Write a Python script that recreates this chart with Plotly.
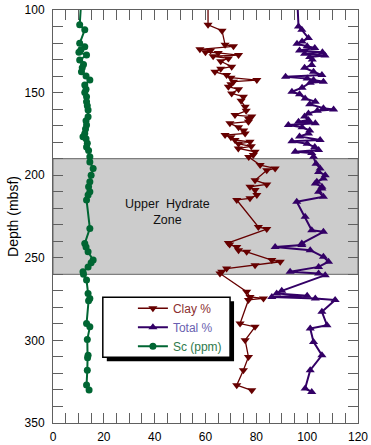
import plotly.graph_objects as go

# ---- data ----
clay_depth = [90, 109, 112.5, 121, 122, 123.8, 124.5, 125.5, 126, 127.3, 128, 129.3, 131, 134.3, 135.5,
              137.4, 139.4, 141, 142.4, 143.4, 145, 146.4, 148, 150.5, 152.5, 155, 158.6, 161, 163.6,
              164.5, 166, 167.6, 168.6, 171, 173, 174.7, 175.7, 177, 178.7, 179.8, 181, 182.5, 183.8,
              185.8, 187.8, 189, 193.9, 195.9, 197, 203, 205.6, 207, 209, 212, 214, 215, 231.3, 232.6,
              241, 242, 243.4, 245.4, 246.4, 251.4, 252.4, 254.5, 256.5, 258.5, 259.5, 270.6, 273.7,
              274.6, 275.5, 289.8, 291.8, 299.9, 310, 318, 327.1, 330.2]
clay_pct = [61, 61, 66.5, 67.7, 71, 57.8, 62, 60, 65, 73, 63, 69, 66, 70.3, 66,
            63.7, 68.3, 70, 80.2, 71, 70, 69, 73, 70.3, 74.9, 74, 75.6, 76, 71.6,
            78.2, 77, 76.9, 69.6, 73, 75, 75.6, 67.7, 70, 71.6, 77.5, 73, 78, 72.9,
            79.5, 78.8, 77, 81.5, 87.4, 84.1, 79.5, 84.1, 77.5, 79.5, 80.2, 77.5, 72.3, 80.8, 84.1,
            69, 69.5, 72.3, 73, 76.2, 86.1, 89.4, 79.5, 68.3, 66.4, 65.7, 76.2, 77.5,
            82.8, 76.9, 73.6, 79.5, 75.6, 76.9, 74.9, 72.3, 78.2]

total_depth = [90, 110, 112, 117, 119, 120.5, 122, 123, 124.5, 125.5, 126.5, 127.5, 128.5, 130, 133.3,
               135, 137.4, 139.4, 140.4, 141.5, 142.4, 143.4, 144, 147, 149.5, 151, 153.5, 155.5, 157,
               159.5, 160.2, 161, 162.6, 164.5, 166.6, 167.6, 168.6, 169.6, 171, 173, 174.7, 176.5,
               178.7, 179.5, 181, 183, 184.8, 185.8, 186.5, 188.8, 193, 195.9, 198, 200, 202, 204, 205,
               207, 208, 210, 213, 216.1, 225.2, 233.3, 234.3, 241.3, 242.3, 243.4, 245.4, 249.4,
               252.4, 255.5, 258.5, 259.5, 260.5, 270, 271.6, 273, 273.7, 274.6, 275.6, 282.7, 290.8,
               292.8, 300.9, 309, 318, 329.1, 331.2]
total_pct = [96, 96.6, 97.9, 100.5, 98, 96, 100, 103, 97, 106, 99, 107, 101, 102, 101.8,
             99, 102.5, 105.8, 91.5, 100, 102.5, 106.4, 101.2, 98, 94, 97, 99.2, 103.2, 101,
             106.4, 110.4, 104, 100.5, 99, 100.5, 96.6, 103.2, 92.6, 98, 101, 100.5, 97,
             105.1, 94, 100, 103, 104.5, 95.3, 101.8, 102.5, 103.5, 105.1, 104.5, 107.1, 106.4, 103.8, 103.2,
             105.8, 105.8, 104.5, 106.4, 95.9, 99.2, 101.8, 106.4, 97.9, 97.9, 87.4, 101.2, 106.4,
             108.4, 104.5, 93.3, 104.5, 107.1, 90, 88, 100, 86.1, 103.2, 111, 105.8, 107.8,
             101.2, 102.5, 105.8, 101.2, 99.2, 101.8]

sc_depth = [90, 109, 112, 120.2, 122.2, 124, 125.5, 127.3, 130.3, 133, 135, 137.4, 140, 142.4, 145.4,
            148, 150, 152.5, 155.5, 158, 160.6, 164.6, 167, 169.6, 172, 174.7, 176.7, 178, 180.7, 183,
            185, 188.8, 192, 195.9, 200, 204, 207, 210, 212, 215, 232.2, 241.3, 243.5, 246.4, 251.4,
            253, 255.5, 258.5, 260, 263.5, 271.6, 274.6, 276, 289.8, 291.8, 299.5, 309, 310.5, 318,
            327, 330]
sc_ppm = [11.3, 10.5, 12.5, 10.5, 12.5, 11, 10.2, 13.2, 10.5, 12, 11.5, 11.2, 13, 14.5, 12.5,
          13, 12.5, 13.2, 13.2, 13.5, 13.8, 13.8, 13, 13.2, 12.8, 12.5, 11.8, 13, 13.5, 13.2,
          14, 14.5, 14.5, 15.8, 15, 14.5, 14, 14.5, 13.8, 13.2, 14.5, 12.5, 13, 13.8, 15.8,
          15, 13.8, 11.8, 12, 13.2, 13.8, 14.5, 14, 13.2, 14.5, 13.5, 13.8, 13.6, 13.5,
          13.2, 14.2]

zone_top, zone_bottom = 190, 260
x_ticks = [0, 20, 40, 60, 80, 100, 120]
y_ticks = [100, 150, 200, 250, 300, 350]

FONT = "Liberation Sans, Arial, Helvetica, sans-serif"
CLAY_C, TOTAL_C, SC_C = "#660000", "#330066", "#006633"

fig = go.Figure()
fig.add_trace(go.Scatter(
    x=clay_pct, y=clay_depth, mode="lines+markers",
    name="<span style='color:#8b2f2f'>Clay %</span>",
    line=dict(color=CLAY_C, width=1.3),
    marker=dict(symbol="triangle-down", size=8, color=CLAY_C)))
fig.add_trace(go.Scatter(
    x=total_pct, y=total_depth, mode="lines+markers",
    name="<span style='color:#6a5fb0'>Total %</span>",
    line=dict(color=TOTAL_C, width=2),
    marker=dict(symbol="triangle-up", size=8, color=TOTAL_C)))
fig.add_trace(go.Scatter(
    x=sc_ppm, y=sc_depth, mode="lines+markers",
    name="<span style='color:#2e7a4c'>Sc (ppm)</span>",
    line=dict(color=SC_C, width=2),
    marker=dict(symbol="circle", size=7, color=SC_C)))

# hydrate zone band
fig.add_shape(type="rect", xref="paper", yref="y", x0=0, x1=1, y0=zone_top, y1=zone_bottom,
              fillcolor="#cccccc", line=dict(color="#666666", width=1), layer="below")
fig.add_annotation(x=45, y=(zone_top + zone_bottom) / 2 - 3, xref="x", yref="y",
                   text="Upper  Hydrate<br>Zone", showarrow=False,
                   font=dict(family=FONT, size=12.5, color="#111111"))

# legend box with drop shadow
fig.add_shape(type="rect", xref="paper", yref="paper", x0=0.1764, x1=0.5936, y0=0.1495, y1=0.2949,
              fillcolor="black", line=dict(width=0), layer="above")
fig.add_shape(type="rect", xref="paper", yref="paper", x0=0.1633, x1=0.5805, y0=0.1592, y1=0.3046,
              fillcolor="white", line=dict(color="black", width=1.5), layer="above")

axis_common = dict(showgrid=False, zeroline=False, showline=True, linecolor="#606060", linewidth=1,
                   mirror="ticks", ticks="inside", ticklen=10, tickcolor="#606060", tickwidth=1,
                   automargin=False,
                   tickfont=dict(family=FONT, size=12, color="black"))

fig.update_layout(
    width=371, height=445,
    margin=dict(l=53, r=13, t=10, b=22),
    paper_bgcolor="white", plot_bgcolor="white",
    font=dict(family=FONT, color="black"),
    showlegend=True,
    legend=dict(x=0.262, y=0.313, xanchor="left", yanchor="top", bgcolor="rgba(0,0,0,0)",
                borderwidth=0, font=dict(family=FONT, size=12), tracegroupgap=0),
    xaxis=dict(range=[0, 120], tickvals=x_ticks, ticklabelstandoff=3,
               minor=dict(dtick=5, ticks="inside", ticklen=10, tickcolor="#606060"),
               **axis_common),
    yaxis=dict(range=[350, 100], tickvals=y_ticks, ticklabelstandoff=5,
               minor=dict(dtick=10, ticks="inside", ticklen=10, tickcolor="#606060"),
               title=dict(text="Depth (mbsf)", font=dict(family=FONT, size=14), standoff=2),
               **axis_common),
)

fig.write_html("out.html", config={"displayModeBar": False},
               post_script="document.body.style.margin='0';")
